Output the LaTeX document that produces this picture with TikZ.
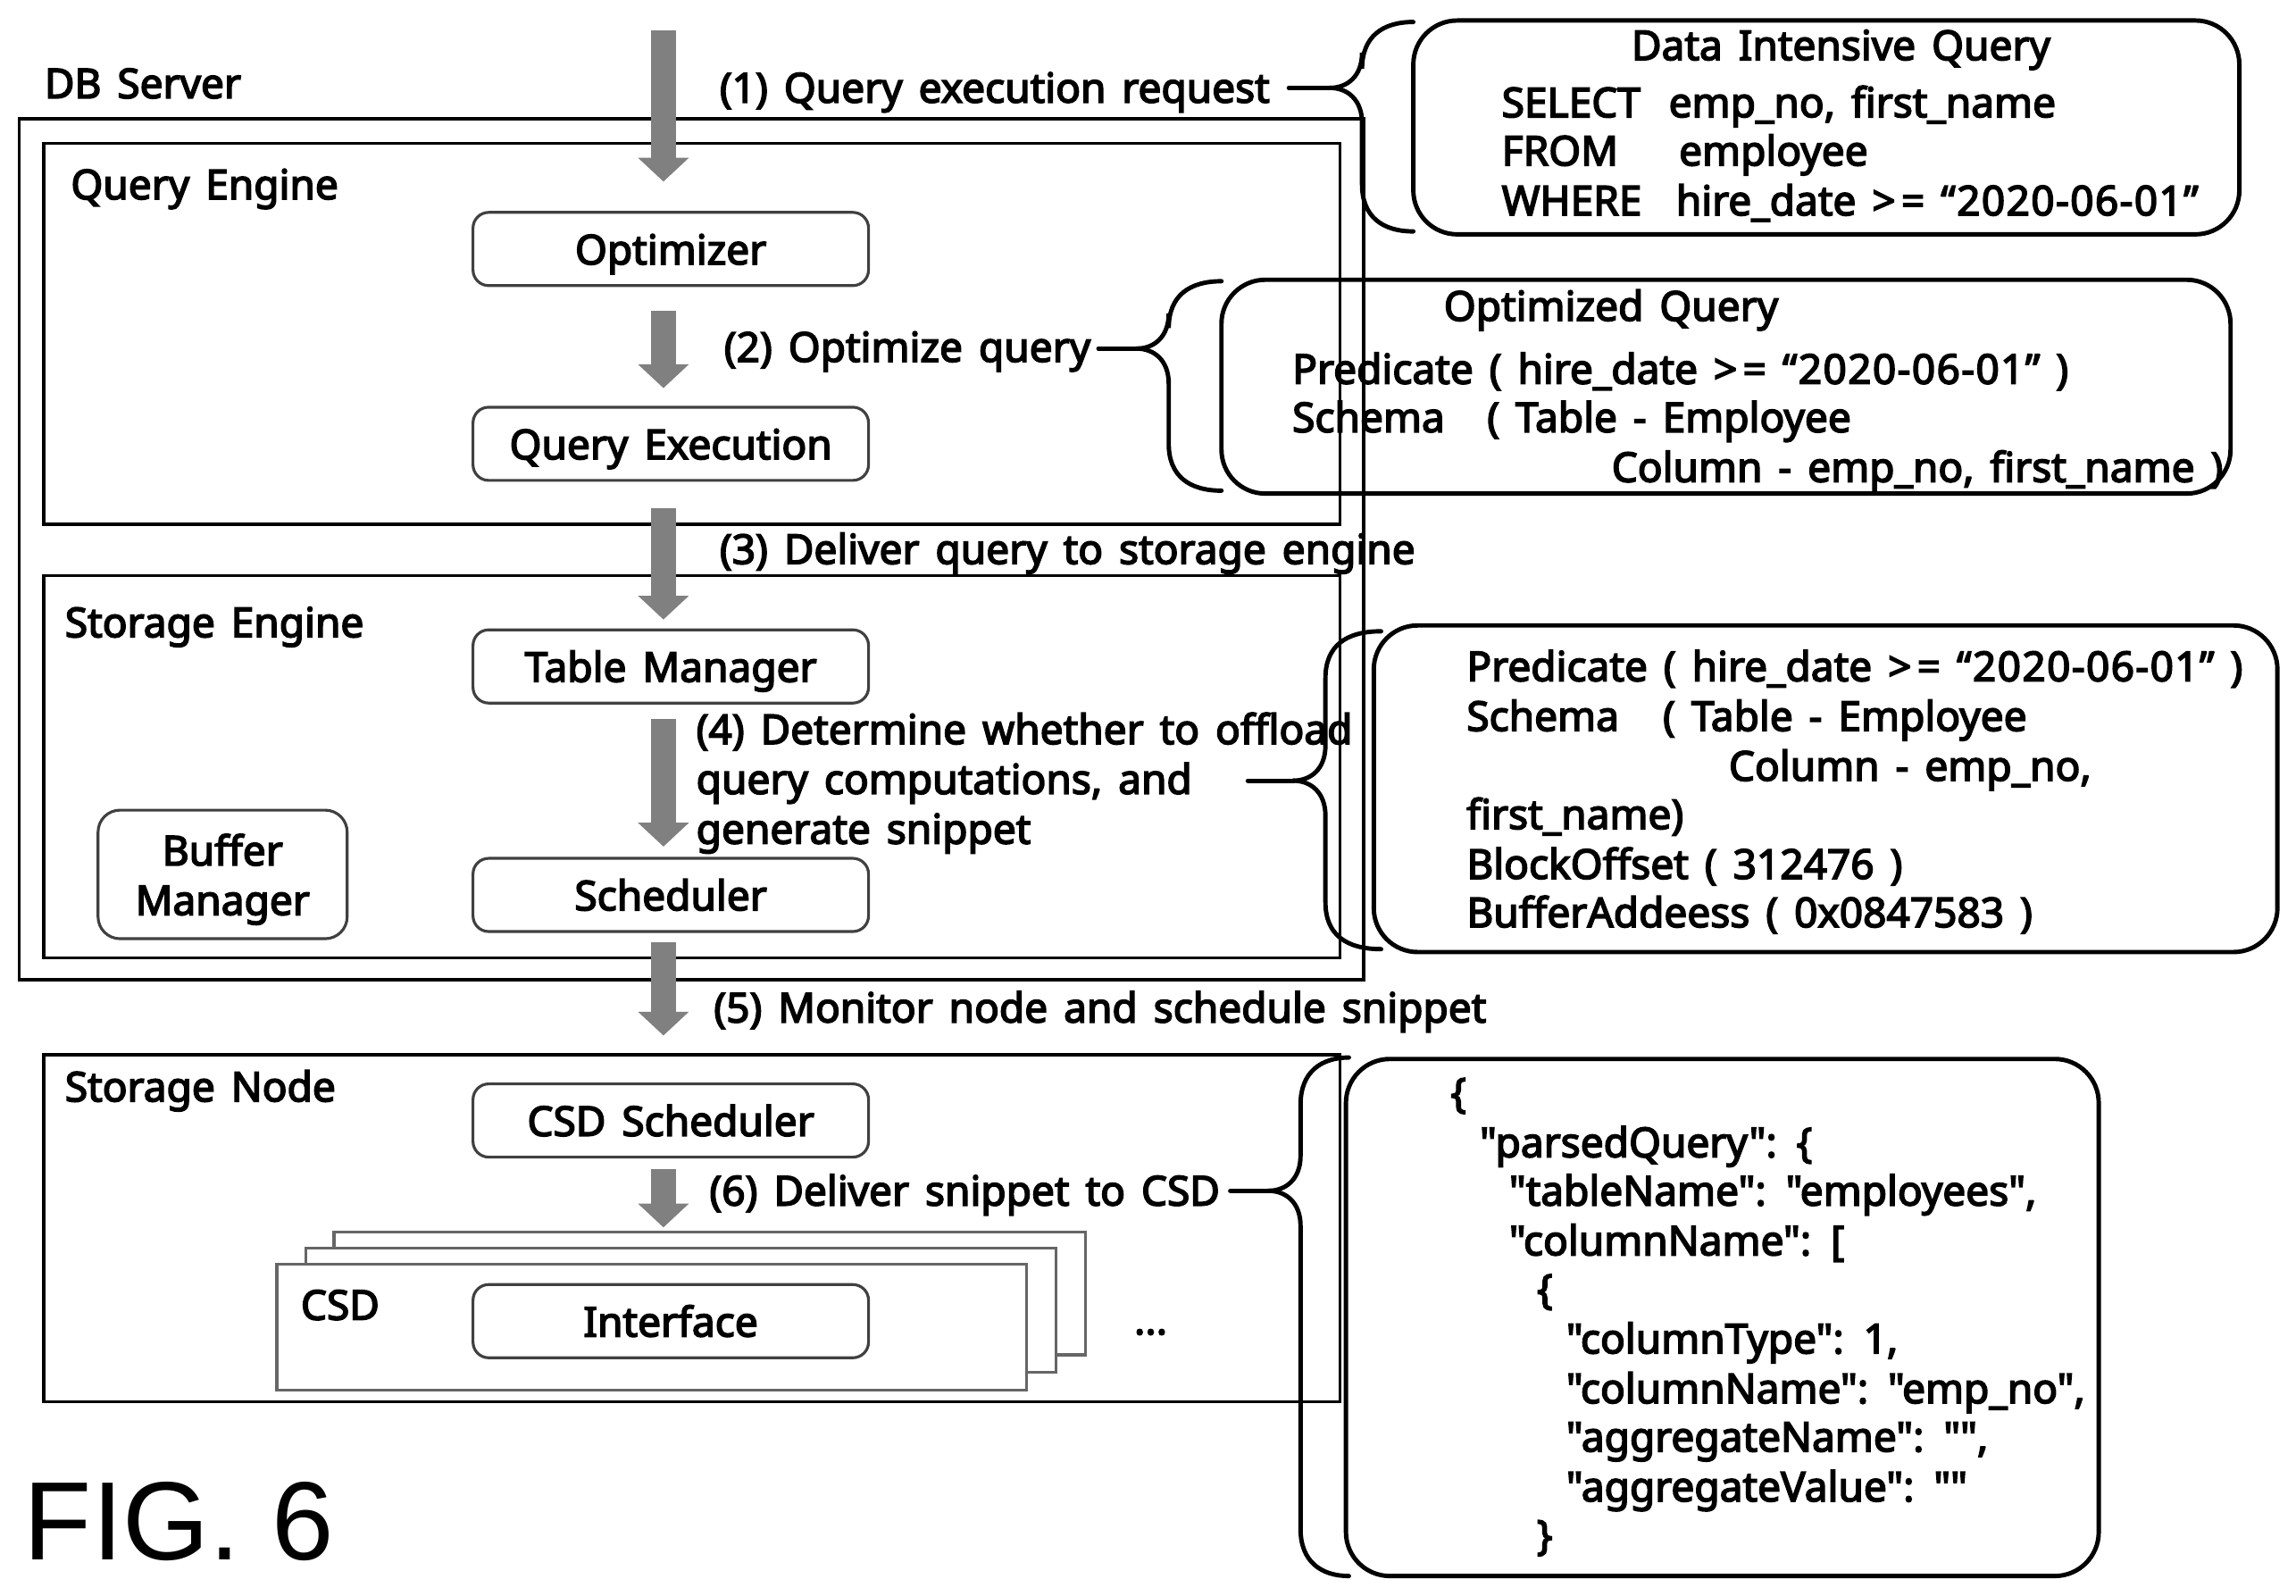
\documentclass[tikz,border=0pt]{standalone}
\usepackage{fontspec}
\setmainfont{Noto Sans}[FakeBold=3.5, WordSpace=1.5, Ligatures=TeXOff]
\newfontfamily\figfont{Liberation Sans}
\usetikzlibrary{arrows.meta}
\usetikzlibrary{positioning}

\newcommand{\hiredate}{hire\_date >\kern1.8pt= {\addfontfeature{LetterSpace=3}“2020-06-01”}}

\tikzset{
  txt/.style={anchor=base west, inner sep=0pt, font=\fontsize{13.1}{16}\selectfont},
  mid/.style={txt, anchor=base},
  areabox/.style={draw, line width=1pt},
  modbox/.style={draw=black!75, line width=0.9pt, rounded corners=5pt, fill=white, inner sep=0pt},
  csdbox/.style={draw=black!60, line width=0.9pt, fill=white},
  infobox/.style={draw, line width=1.4pt, rounded corners=14pt},
  flow/.style={draw=black!50, line width=8.2pt, -{Triangle[length=7.6pt,width=15.8pt,fill=black!50]}},
  bracket/.style={draw, line width=1.4pt, line cap=round},
}

% curly bracket from an info box back to a step label
\newcommand{\bracketline}[7]{%
  \coordinate (#1top) at (#2,#5);
  \coordinate (#1bot) at (#2,#7);
  \coordinate (#1knee) at (#3-22,#6);
  \coordinate (#1tip) at (#4,#6);
  \draw[bracket] (#1top) .. controls (#3+14,#5) and (#3,#5+10) .. (#3,#5+32) -- (#3,#6-24)
    .. controls (#3,#6-8) and (#3-10,#6) .. (#1knee);
  \draw[bracket] (#1bot) .. controls (#3+14,#7) and (#3,#7-10) .. (#3,#7-32) -- (#3,#6+24)
    .. controls (#3,#6+8) and (#3-10,#6) .. (#1knee);
  \draw[bracket] (#1knee) -- (#1tip);
}

\begin{document}
\begin{tikzpicture}[x=0.0164cm, y=-0.0164cm]
  \useasboundingbox (0,0) rectangle (1567.7,1089.6);

  % server and engine frames
  \coordinate (dbnw) at (13,81);      \coordinate (dbse) at (931,669);
  \coordinate (qenw) at (30,98);      \coordinate (qese) at (915,358);
  \coordinate (senw) at (30,393);     \coordinate (sese) at (915,654);
  \coordinate (snnw) at (30,720);     \coordinate (snse) at (915,957);
  \draw[areabox] (dbnw) rectangle (dbse);
  \draw[areabox] (qenw) rectangle (qese);
  \draw[areabox] (senw) rectangle (sese);
  \draw[areabox] (snnw) rectangle (snse);

  \node[txt] (dblabel) at (30,67) {DB Server};
  \node[txt] (qelabel) at (48,136) {Query Engine};
  \node[txt] (selabel) at (44,435) {Storage Engine};
  \node[txt] (snlabel) at (44,752) {Storage Node};

  % CSD stack
  \coordinate (csd3nw) at (228,841);  \coordinate (csd3se) at (741,925);
  \coordinate (csd2nw) at (209,852);  \coordinate (csd2se) at (721,937);
  \coordinate (csd1nw) at (189,863);  \coordinate (csd1se) at (701,949);
  \draw[csdbox] (csd3nw) rectangle (csd3se);
  \draw[csdbox] (csd2nw) rectangle (csd2se);
  \draw[csdbox] (csd1nw) rectangle (csd1se);
  \node[txt] (csdlabel) at (205,901) {CSD};
  \node[txt] (dots) at (774,911) {...};

  % modules
  \foreach \name/\yy/\label in {optimizer/170/Optimizer, queryexec/303/Query Execution,
      tablemgr/455/Table Manager, scheduler/611/Scheduler,
      csdsched/765/CSD Scheduler, interface/902/Interface}
    \node[modbox, minimum width=4.43cm, minimum height=0.82cm, text height=12.4pt, text depth=2.6pt,
      font=\fontsize{13.1}{16}\selectfont] (\name) at (458,\yy) {\label};
  \node[modbox, rounded corners=7pt, minimum width=2.79cm, minimum height=1.44cm, align=center,
    font=\fontsize{13.1}{15.8}\selectfont, text depth=0pt] (buffer) at (152,597) {Buffer\\Manager};

  % steps
  \foreach \name/\ya/\yb in {one/21/124, two/212/265, three/347/423, four/491/578, five/643/707, six/798/838} {
    \coordinate (\name s) at (453,\ya);
    \coordinate (\name e) at (453,\yb);
    \draw[flow] (\name s) -- (\name e);
  }
  \node[txt] (step1) at (491,70) {(1) Query execution request};
  \node[txt] (step2) at (494,247) {(2) Optimize query};
  \node[txt] (step3) at (491,385) {(3) Deliver query to storage engine};
  \node[txt] (step4a) at (475,508) {(4) Determine whether to offload};
  \node[txt] (step4b) at (475,542) {query computations, and};
  \node[txt] (step4c) at (475,576) {generate snippet};
  \node[txt] (step5) at (487,698) {(5) Monitor node and schedule snippet};
  \node[txt] (step6) at (484,823) {(6) Deliver snippet to CSD};

  % info boxes
  \coordinate (inf1nw) at (965,14);   \coordinate (inf1se) at (1529,160);
  \coordinate (inf2nw) at (834,191);  \coordinate (inf2se) at (1523,337);
  \coordinate (inf3nw) at (938,427);  \coordinate (inf3se) at (1555,650);
  \coordinate (inf4nw) at (919,723);  \coordinate (inf4se) at (1433,1076);
  \draw[infobox] (inf1nw) rectangle (inf1se);
  \draw[infobox] (inf2nw) rectangle (inf2se);
  \draw[infobox] (inf3nw) rectangle (inf3se);
  \draw[infobox] (inf4nw) rectangle (inf4se);

  \bracketline{brone}{965}{930}{880}{15}{60}{158}
  \bracketline{brtwo}{834}{798}{750}{192}{238}{335}
  \bracketline{brthree}{943}{905}{852}{431}{533}{648}
  \bracketline{brfour}{921}{888}{840}{722}{813}{1076}

  % query text
  \node[mid] (q0) at (1257,41) {Data Intensive Query};
  \foreach \name/\xx/\yy/\label in {q1/1025/80/SELECT, q1b/1139/80/{emp\_no, first\_name},
      q2/1025/113/FROM, q2b/1146/113/employee,
      q3/1025/147/WHERE, q3b/1144/147/\hiredate}
    \node[txt] (\name) at (\xx,\yy) {\label};

  \node[mid] (o0) at (1100,219) {Optimized Query};
  \foreach \name/\xx/\yy/\label in {o1/882/262/{Predicate ( \hiredate\ )},
      o2/882/295/Schema, o2b/1015/295/{( Table - Employee},
      o3/1100/329/{Column - emp\_no, first\_name )}}
    \node[txt] (\name) at (\xx,\yy) {\label};

  \foreach \name/\xx/\yy/\label in {s1/1001/465/{Predicate ( \hiredate\ )},
      s2/1001/499/Schema, s2b/1135/499/{( Table - Employee},
      s3/1180/533/{Column - emp\_no,}, s4/1001/566/{first\_name)},
      s5/1001/600/{BlockOffset ( 312476 )}, s6/1001/633/{BufferAddeess ( 0x0847583 )}}
    \node[txt] (\name) at (\xx,\yy) {\label};

  \foreach \name/\xx/\yy/\label in {j1/990/756/\{, j2/1010/790/{"parsedQuery": \{},
      j3/1030/823/{"tableName": "employees",}, j4/1030/857/{"columnName": [},
      j5/1049/890/\{, j6/1069/924/{"columnType": 1,},
      j7/1069/958/{"columnName": "emp\_no",}, j8/1069/991/{"aggregateName": "",},
      j9/1069/1025/{"aggregateValue": ""}, j10/1049/1058/\}}
    \node[txt] (\name) at (\xx,\yy) {\label};

  \node[txt, font=\figfont\fontsize{35.5}{40}\selectfont] (figlabel) at (16,1065) {FIG. 6};
\end{tikzpicture}
\end{document}
